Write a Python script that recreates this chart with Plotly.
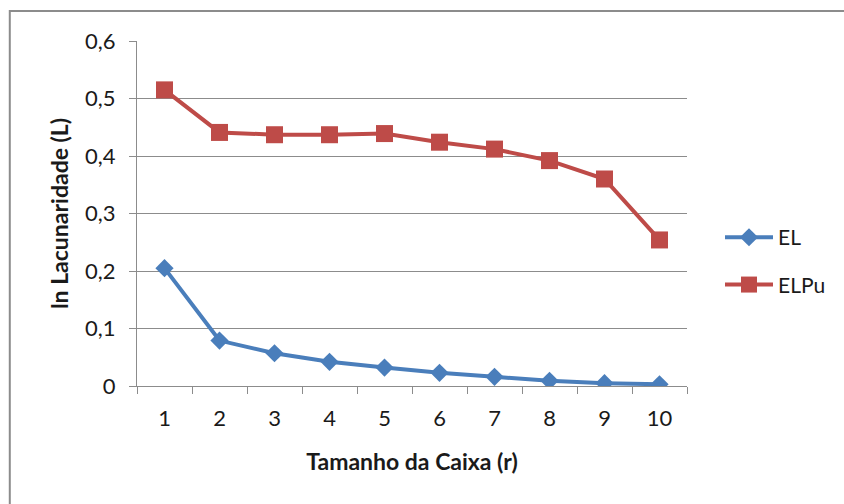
import plotly.graph_objects as go

# Box sizes (r) and ln lacunarity values for each series
box_sizes = ["1", "2", "3", "4", "5", "6", "7", "8", "9", "10"]
el_values = [0.205, 0.079, 0.057, 0.042, 0.032, 0.023, 0.016, 0.009, 0.005, 0.003]
elpu_values = [0.515, 0.441, 0.437, 0.437, 0.439, 0.424, 0.412, 0.392, 0.360, 0.254]

y_ticks = [0, 0.1, 0.2, 0.3, 0.4, 0.5, 0.6]
y_tick_labels = ["0", "0,1", "0,2", "0,3", "0,4", "0,5", "0,6"]

FONT = "Lato, 'Open Sans', sans-serif"
BLUE = "#4a7ebb"
RED = "#be4b48"
GRID = "#8c8c8c"

fig = go.Figure()
fig.add_trace(go.Scatter(
    x=box_sizes, y=el_values, name="EL", mode="lines+markers",
    legendgroup="el",
    line=dict(color=BLUE, width=4),
    marker=dict(symbol="diamond", size=14, color=BLUE),
))
fig.add_trace(go.Scatter(
    x=box_sizes, y=elpu_values, name="ELPu", mode="lines+markers",
    legendgroup="elpu",
    line=dict(color=RED, width=4),
    marker=dict(symbol="square", size=17, color=RED),
))

fig.update_layout(
    width=844, height=504,
    margin=dict(l=137, r=157, t=41, b=118),
    paper_bgcolor="white", plot_bgcolor="white",
    font=dict(family=FONT, size=21, color="#1a1a1a"),
    showlegend=True,
    legend=dict(
        x=1.06, xanchor="left", y=0.362, yanchor="middle",
        traceorder="grouped", tracegroupgap=17, itemwidth=48,
        font=dict(family=FONT, size=21, color="#1a1a1a"),
        bgcolor="rgba(0,0,0,0)",
    ),
    xaxis=dict(
        type="category", tickson="boundaries", range=[-0.5, 9.5],
        showgrid=False, showline=True, linecolor=GRID, linewidth=1,
        ticks="outside", ticklen=7, tickcolor=GRID,
        ticklabelstandoff=13,
        tickfont=dict(family=FONT, size=22),
        title=dict(text="<b>Tamanho da Caixa (r)</b>", font=dict(family=FONT, size=23), standoff=23),
        zeroline=False,
    ),
    yaxis=dict(
        range=[0, 0.6], tickvals=y_ticks, ticktext=y_tick_labels,
        showgrid=True, gridcolor=GRID, gridwidth=1,
        showline=True, linecolor=GRID, linewidth=1,
        ticks="outside", ticklen=7, tickcolor=GRID,
        ticklabelstandoff=9,
        tickfont=dict(family=FONT, size=22),
        title=dict(text="<b>ln Lacunaridade (L)</b>", font=dict(family=FONT, size=23), standoff=10),
        zeroline=False,
    ),
    shapes=[dict(
        type="rect", xref="paper", yref="paper",
        x0=-0.2313, x1=1.4, y0=-0.6, y1=1.087,
        line=dict(color="#8c8c8c", width=2), layer="below",
    )],
)

fig.write_html("out.html")
